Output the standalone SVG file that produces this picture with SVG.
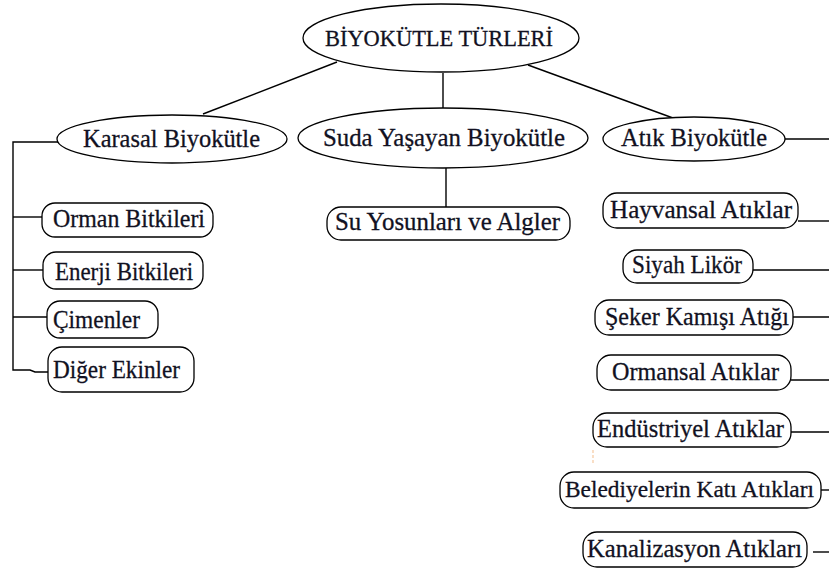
<svg xmlns="http://www.w3.org/2000/svg" width="829" height="569" viewBox="0 0 829 569">
  <style>
    .shape { fill: #ffffff; stroke: #000000; stroke-width: 1.3; }
    .link { fill: none; stroke: #000000; stroke-width: 1.4; }
    .lbl { font-family: "Liberation Serif", "Times New Roman", serif; font-size: 26px; fill: #111122; stroke: #111122; stroke-width: 0.3; }
    .title { font-size: 24px; }
    .long { font-size: 24px; }
  </style>
  <rect x="0" y="0" width="829" height="569" fill="#ffffff"/>

  <!-- connectors -->
  <g id="connectors">
    <line class="link" x1="337" y1="62" x2="203" y2="114"/>
    <line class="link" x1="443" y1="73" x2="443" y2="108"/>
    <line class="link" x1="528" y1="65" x2="673" y2="118"/>
    <line class="link" x1="446" y1="168" x2="446" y2="207"/>
    <!-- left bracket under Karasal Biyokütle -->
    <path class="link" d="M58,142 H13 V370 H30 L35,372 H48"/>
    <path class="link" d="M13,217 H42"/>
    <path class="link" d="M13,270 H43"/>
    <path class="link" d="M13,317 H47"/>
    <!-- right side stubs -->
    <path class="link" d="M785,139 H829"/>
    <path class="link" d="M798,221 H829"/>
    <path class="link" d="M753,270 H829"/>
    <path class="link" d="M793,317 H829"/>
    <path class="link" d="M791,380 H829"/>
    <path class="link" d="M791,432 H829"/>
    <path class="link" d="M820,490 H829"/>
    <path class="link" d="M813,552 H829"/>
    <line x1="593" y1="450" x2="593" y2="464" stroke="#f6c8a0" stroke-width="1.2" stroke-dasharray="3,2"/>
  </g>

  <g id="root">
    <ellipse class="shape" cx="441" cy="38" rx="138" ry="34"/>
    <text class="lbl title" x="325" y="46" textLength="228" lengthAdjust="spacingAndGlyphs">BİYOKÜTLE TÜRLERİ</text>
  </g>

  <g id="karasal">
    <ellipse class="shape" cx="172" cy="139" rx="115" ry="24"/>
    <text class="lbl" x="83" y="147" textLength="177" lengthAdjust="spacingAndGlyphs">Karasal Biyokütle</text>
  </g>
  <g id="suda">
    <ellipse class="shape" cx="443" cy="138" rx="145" ry="30"/>
    <text class="lbl" x="323" y="146" textLength="242" lengthAdjust="spacingAndGlyphs">Suda Yaşayan Biyokütle</text>
  </g>
  <g id="atik">
    <ellipse class="shape" cx="694" cy="139" rx="91" ry="22"/>
    <text class="lbl" x="621" y="146" textLength="146" lengthAdjust="spacingAndGlyphs">Atık Biyokütle</text>
  </g>

  <g id="su-yosunlari">
    <rect class="shape" x="327" y="207" width="243" height="33" rx="14"/>
    <text class="lbl" x="335" y="230" textLength="225" lengthAdjust="spacingAndGlyphs">Su Yosunları ve Algler</text>
  </g>

  <g id="orman-bitkileri">
    <rect class="shape" x="42" y="203" width="171" height="34" rx="13"/>
    <text class="lbl" x="53" y="227" textLength="152" lengthAdjust="spacingAndGlyphs">Orman Bitkileri</text>
  </g>
  <g id="enerji-bitkileri">
    <rect class="shape" x="43" y="252" width="160" height="37" rx="13"/>
    <text class="lbl" x="55" y="280" textLength="138" lengthAdjust="spacingAndGlyphs">Enerji Bitkileri</text>
  </g>
  <g id="cimenler">
    <rect class="shape" x="47" y="301" width="111" height="37" rx="13"/>
    <text class="lbl" x="53" y="328" textLength="87" lengthAdjust="spacingAndGlyphs">Çimenler</text>
  </g>
  <g id="diger-ekinler">
    <rect class="shape" x="48" y="347" width="146" height="45" rx="14"/>
    <text class="lbl" x="53" y="378" textLength="127" lengthAdjust="spacingAndGlyphs">Diğer Ekinler</text>
  </g>

  <g id="hayvansal">
    <rect class="shape" x="603" y="193" width="195" height="35" rx="14"/>
    <text class="lbl" x="610" y="218" textLength="182" lengthAdjust="spacingAndGlyphs">Hayvansal Atıklar</text>
  </g>
  <g id="siyah-likor">
    <rect class="shape" x="623" y="250" width="130" height="33" rx="14"/>
    <text class="lbl" x="632" y="273" textLength="110" lengthAdjust="spacingAndGlyphs">Siyah Likör</text>
  </g>
  <g id="seker-kamisi">
    <rect class="shape" x="595" y="300" width="198" height="35" rx="14"/>
    <text class="lbl" x="605" y="325" textLength="184" lengthAdjust="spacingAndGlyphs">Şeker Kamışı Atığı</text>
  </g>
  <g id="ormansal">
    <rect class="shape" x="597" y="355" width="194" height="35" rx="14"/>
    <text class="lbl" x="612" y="380" textLength="167" lengthAdjust="spacingAndGlyphs">Ormansal Atıklar</text>
  </g>
  <g id="endustriyel">
    <rect class="shape" x="593" y="413" width="198" height="34" rx="14"/>
    <text class="lbl" x="597" y="437" textLength="187" lengthAdjust="spacingAndGlyphs">Endüstriyel Atıklar</text>
  </g>
  <g id="belediye">
    <rect class="shape" x="560" y="472" width="261" height="36" rx="14"/>
    <text class="lbl long" x="565" y="497" textLength="249" lengthAdjust="spacingAndGlyphs">Belediyelerin Katı Atıkları</text>
  </g>
  <g id="kanalizasyon">
    <rect class="shape" x="583" y="532" width="224" height="35" rx="14"/>
    <text class="lbl" x="587" y="557" textLength="215" lengthAdjust="spacingAndGlyphs">Kanalizasyon Atıkları</text>
  </g>
</svg>
